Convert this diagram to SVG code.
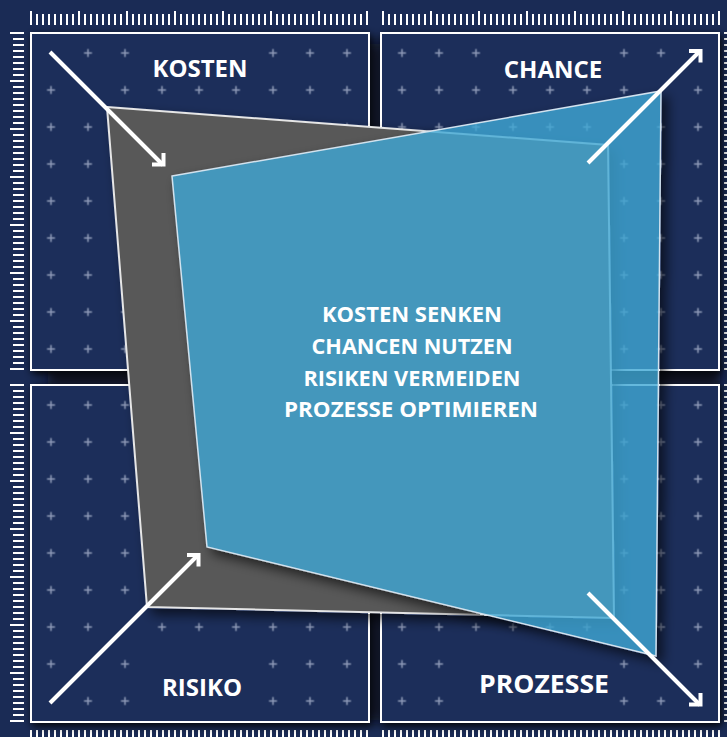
<svg xmlns="http://www.w3.org/2000/svg" width="727" height="737" viewBox="0 0 727 737">
<style>
.panel{fill:#1c2e5a;stroke:#fff;stroke-width:2}
.tick{stroke:#fff;stroke-width:2}
.arrow{fill:none;stroke:#fff;stroke-width:4;stroke-linejoin:miter;stroke-linecap:butt}
.lbl{font-family:"Open Sans","Noto Sans",sans-serif;font-weight:700;fill:#fff;text-anchor:middle}
.plus{fill:none;stroke:#8f9bb8;stroke-width:1.5}
</style>
<defs>
<path id="pl" class="plus" d="M14.5,18.5h8M18.5,14.5v8"/>
<pattern id="pTL" patternUnits="userSpaceOnUse" x="32.5" y="34.5" width="37" height="37"><use href="#pl"/></pattern>
<pattern id="pTR" patternUnits="userSpaceOnUse" x="383.5" y="34.5" width="37" height="37"><use href="#pl"/></pattern>
<pattern id="pBL" patternUnits="userSpaceOnUse" x="32.5" y="386.5" width="37" height="37"><use href="#pl"/></pattern>
<pattern id="pBR" patternUnits="userSpaceOnUse" x="383.5" y="386.5" width="37" height="37"><use href="#pl"/></pattern>
<mask id="pm" maskUnits="userSpaceOnUse" x="0" y="0" width="727" height="737">
<rect width="727" height="737" fill="#fff"/>
<g stroke="#000" stroke-width="14" stroke-linecap="round">
<line x1="44" y1="46" x2="170" y2="171"/>
<line x1="582" y1="169" x2="706" y2="45"/>
<line x1="44" y1="709" x2="205" y2="548"/>
<line x1="582" y1="587" x2="707" y2="711"/>
</g>
<rect x="148" y="44" width="104" height="38" fill="#000"/>
<rect x="500" y="44" width="106" height="38" fill="#000"/>
<rect x="150" y="655" width="100" height="57" fill="#000"/>
<rect x="468" y="655" width="144" height="57" fill="#000"/>
</mask>
<filter id="psh" x="-10%" y="-10%" width="125%" height="125%">
<feDropShadow dx="2" dy="3" stdDeviation="4" flood-color="#000" flood-opacity="0.95"/>
</filter>
<filter id="soft" x="-5%" y="-5%" width="110%" height="110%">
<feGaussianBlur stdDeviation="6"/>
</filter>
<filter id="ssh" x="-10%" y="-10%" width="130%" height="130%">
<feComponentTransfer in="SourceAlpha" result="a"><feFuncA type="linear" slope="5"/></feComponentTransfer>
<feGaussianBlur in="a" stdDeviation="6"/>
<feOffset dx="6" dy="6" result="b"/>
<feFlood flood-color="#000" flood-opacity="0.6"/>
<feComposite in2="b" operator="in" result="s"/>
<feComposite in="s" in2="a" operator="out" result="s2"/>
<feMerge><feMergeNode in="s2"/><feMergeNode in="SourceGraphic"/></feMerge>
</filter>
</defs>
<rect width="727" height="737" fill="#1a2b55"/>
<g id="rulers" class="tick">
<path id="ruler-top" d="M31,11v14M37,14v11M43,14v11M49,14v11M55,14v11M61,14v11M67,14v11M73,14v11M79,11v14M85,14v11M91,14v11M97,14v11M103,14v11M109,14v11M115,14v11M121,14v11M127,11v14M133,14v11M139,14v11M145,14v11M151,14v11M157,14v11M163,14v11M169,14v11M175,11v14M181,14v11M187,14v11M193,14v11M199,14v11M205,14v11M211,14v11M217,14v11M223,11v14M229,14v11M235,14v11M241,14v11M247,14v11M253,14v11M259,14v11M265,14v11M271,11v14M277,14v11M283,14v11M289,14v11M295,14v11M301,14v11M307,14v11M313,14v11M319,11v14M325,14v11M331,14v11M337,14v11M343,14v11M349,14v11M355,14v11M361,14v11M367,11v14M383,11v14M389,14v11M395,14v11M401,14v11M407,14v11M413,14v11M419,14v11M425,14v11M431,11v14M437,14v11M443,14v11M449,14v11M455,14v11M461,14v11M467,14v11M473,14v11M479,11v14M485,14v11M491,14v11M497,14v11M503,14v11M509,14v11M515,14v11M521,14v11M527,11v14M533,14v11M539,14v11M545,14v11M551,14v11M557,14v11M563,14v11M569,14v11M575,11v14M581,14v11M587,14v11M593,14v11M599,14v11M605,14v11M611,14v11M617,14v11M623,11v14M629,14v11M635,14v11M641,14v11M647,14v11M653,14v11M659,14v11M665,14v11M671,11v14M677,14v11M683,14v11M689,14v11M695,14v11M701,14v11M707,14v11M713,14v11M719,11v14"/>
<path id="ruler-left" d="M10,33h14M13,39h11M13,45h11M13,51h11M13,57h11M13,63h11M13,69h11M13,75h11M10,81h14M13,87h11M13,93h11M13,99h11M13,105h11M13,111h11M13,117h11M13,123h11M10,129h14M13,135h11M13,141h11M13,147h11M13,153h11M13,159h11M13,165h11M13,171h11M10,177h14M13,183h11M13,189h11M13,195h11M13,201h11M13,207h11M13,213h11M13,219h11M10,225h14M13,231h11M13,237h11M13,243h11M13,249h11M13,255h11M13,261h11M13,267h11M10,273h14M13,279h11M13,285h11M13,291h11M13,297h11M13,303h11M13,309h11M13,315h11M10,321h14M13,327h11M13,333h11M13,339h11M13,345h11M13,351h11M13,357h11M13,363h11M10,369h14M10,385h14M13,391h11M13,397h11M13,403h11M13,409h11M13,415h11M13,421h11M13,427h11M10,433h14M13,439h11M13,445h11M13,451h11M13,457h11M13,463h11M13,469h11M13,475h11M10,481h14M13,487h11M13,493h11M13,499h11M13,505h11M13,511h11M13,517h11M13,523h11M10,529h14M13,535h11M13,541h11M13,547h11M13,553h11M13,559h11M13,565h11M13,571h11M10,577h14M13,583h11M13,589h11M13,595h11M13,601h11M13,607h11M13,613h11M13,619h11M10,625h14M13,631h11M13,637h11M13,643h11M13,649h11M13,655h11M13,661h11M13,667h11M10,673h14M13,679h11M13,685h11M13,691h11M13,697h11M13,703h11M13,709h11M13,715h11M10,721h14"/>
<path id="ruler-bottom" d="M31,730v7M37,730v7M43,730v7M49,730v7M55,730v7M61,730v7M67,730v7M73,730v7M79,730v7M85,730v7M91,730v7M97,730v7M103,730v7M109,730v7M115,730v7M121,730v7M127,730v7M133,730v7M139,730v7M145,730v7M151,730v7M157,730v7M163,730v7M169,730v7M175,730v7M181,730v7M187,730v7M193,730v7M199,730v7M205,730v7M211,730v7M217,730v7M223,730v7M229,730v7M235,730v7M241,730v7M247,730v7M253,730v7M259,730v7M265,730v7M271,730v7M277,730v7M283,730v7M289,730v7M295,730v7M301,730v7M307,730v7M313,730v7M319,730v7M325,730v7M331,730v7M337,730v7M343,730v7M349,730v7M355,730v7M361,730v7M367,730v7M383,730v7M389,730v7M395,730v7M401,730v7M407,730v7M413,730v7M419,730v7M425,730v7M431,730v7M437,730v7M443,730v7M449,730v7M455,730v7M461,730v7M467,730v7M473,730v7M479,730v7M485,730v7M491,730v7M497,730v7M503,730v7M509,730v7M515,730v7M521,730v7M527,730v7M533,730v7M539,730v7M545,730v7M551,730v7M557,730v7M563,730v7M569,730v7M575,730v7M581,730v7M587,730v7M593,730v7M599,730v7M605,730v7M611,730v7M617,730v7M623,730v7M629,730v7M635,730v7M641,730v7M647,730v7M653,730v7M659,730v7M665,730v7M671,730v7M677,730v7M683,730v7M689,730v7M695,730v7M701,730v7M707,730v7M713,730v7M719,730v7"/>
<path id="ruler-right" d="M724,33h3M724,39h3M724,45h3M724,51h3M724,57h3M724,63h3M724,69h3M724,75h3M724,81h3M724,87h3M724,93h3M724,99h3M724,105h3M724,111h3M724,117h3M724,123h3M724,129h3M724,135h3M724,141h3M724,147h3M724,153h3M724,159h3M724,165h3M724,171h3M724,177h3M724,183h3M724,189h3M724,195h3M724,201h3M724,207h3M724,213h3M724,219h3M724,225h3M724,231h3M724,237h3M724,243h3M724,249h3M724,255h3M724,261h3M724,267h3M724,273h3M724,279h3M724,285h3M724,291h3M724,297h3M724,303h3M724,309h3M724,315h3M724,321h3M724,327h3M724,333h3M724,339h3M724,345h3M724,351h3M724,357h3M724,363h3M724,369h3M724,385h3M724,391h3M724,397h3M724,403h3M724,409h3M724,415h3M724,421h3M724,427h3M724,433h3M724,439h3M724,445h3M724,451h3M724,457h3M724,463h3M724,469h3M724,475h3M724,481h3M724,487h3M724,493h3M724,499h3M724,505h3M724,511h3M724,517h3M724,523h3M724,529h3M724,535h3M724,541h3M724,547h3M724,553h3M724,559h3M724,565h3M724,571h3M724,577h3M724,583h3M724,589h3M724,595h3M724,601h3M724,607h3M724,613h3M724,619h3M724,625h3M724,631h3M724,637h3M724,643h3M724,649h3M724,655h3M724,661h3M724,667h3M724,673h3M724,679h3M724,685h3M724,691h3M724,697h3M724,703h3M724,709h3M724,715h3M724,721h3"/>
</g>
<g id="gap-shadow" fill="#070c1e" filter="url(#soft)">
<rect x="48" y="370" width="672" height="15"/>
<rect x="369" y="44" width="12" height="676"/>
</g>
<g id="panels" filter="url(#psh)">
<rect id="panel-kosten" class="panel" x="31" y="33" width="338" height="337"/>
<rect id="panel-chance" class="panel" x="381" y="33" width="338" height="337"/>
<rect id="panel-risiko" class="panel" x="31" y="385" width="338" height="337"/>
<rect id="panel-prozesse" class="panel" x="381" y="385" width="338" height="337"/>
</g>
<g id="grid" mask="url(#pm)">
<rect x="32" y="34" width="336" height="335" fill="url(#pTL)"/>
<rect x="382" y="34" width="336" height="335" fill="url(#pTR)"/>
<rect x="32" y="386" width="336" height="335" fill="url(#pBL)"/>
<rect x="382" y="386" width="336" height="335" fill="url(#pBR)"/>
</g>
<g id="back-shape" filter="url(#ssh)">
<polygon points="107,107 608,145 614,618 147,607" fill="#585858" stroke="#e6e6e6" stroke-width="2"/>
</g>
<g id="front-shape" filter="url(#ssh)">
<polygon points="172,176 661,91 656,656 207,547" fill="#3ea8d5" fill-opacity="0.8" stroke="#d2e2ee" stroke-width="1.5"/>
</g>
<g id="center-text" class="lbl" font-size="22">
<text x="412" y="322" textLength="180" lengthAdjust="spacingAndGlyphs">KOSTEN SENKEN</text>
<text x="412" y="354" textLength="201" lengthAdjust="spacingAndGlyphs">CHANCEN NUTZEN</text>
<text x="412" y="386" textLength="217" lengthAdjust="spacingAndGlyphs">RISIKEN VERMEIDEN</text>
<text x="411" y="417" textLength="254" lengthAdjust="spacingAndGlyphs">PROZESSE OPTIMIEREN</text>
</g>
<g id="connectors">
<line class="arrow" x1="50" y1="52" x2="163" y2="165"/>
<polyline class="arrow" points="152,164.5 163.5,164.5 163.5,153"/>
<line class="arrow" x1="588" y1="163" x2="700" y2="51"/>
<polyline class="arrow" points="689,51 700.5,51 700.5,62.5"/>
<line class="arrow" x1="50" y1="703" x2="198" y2="555"/>
<polyline class="arrow" points="187,555 198.5,555 198.5,566.5"/>
<line class="arrow" x1="588" y1="593" x2="700" y2="705"/>
<polyline class="arrow" points="689,704.5 700.5,704.5 700.5,693"/>
</g>
<g id="kosten"><text class="lbl" x="200" y="77" font-size="24">KOSTEN</text></g>
<g id="chance"><text class="lbl" x="553" y="78" font-size="24">CHANCE</text></g>
<g id="risiko"><text class="lbl" x="202" y="696" font-size="24">RISIKO</text></g>
<g id="prozesse"><text class="lbl" x="544" y="693" font-size="25" textLength="130" lengthAdjust="spacingAndGlyphs">PROZESSE</text></g>
</svg>
